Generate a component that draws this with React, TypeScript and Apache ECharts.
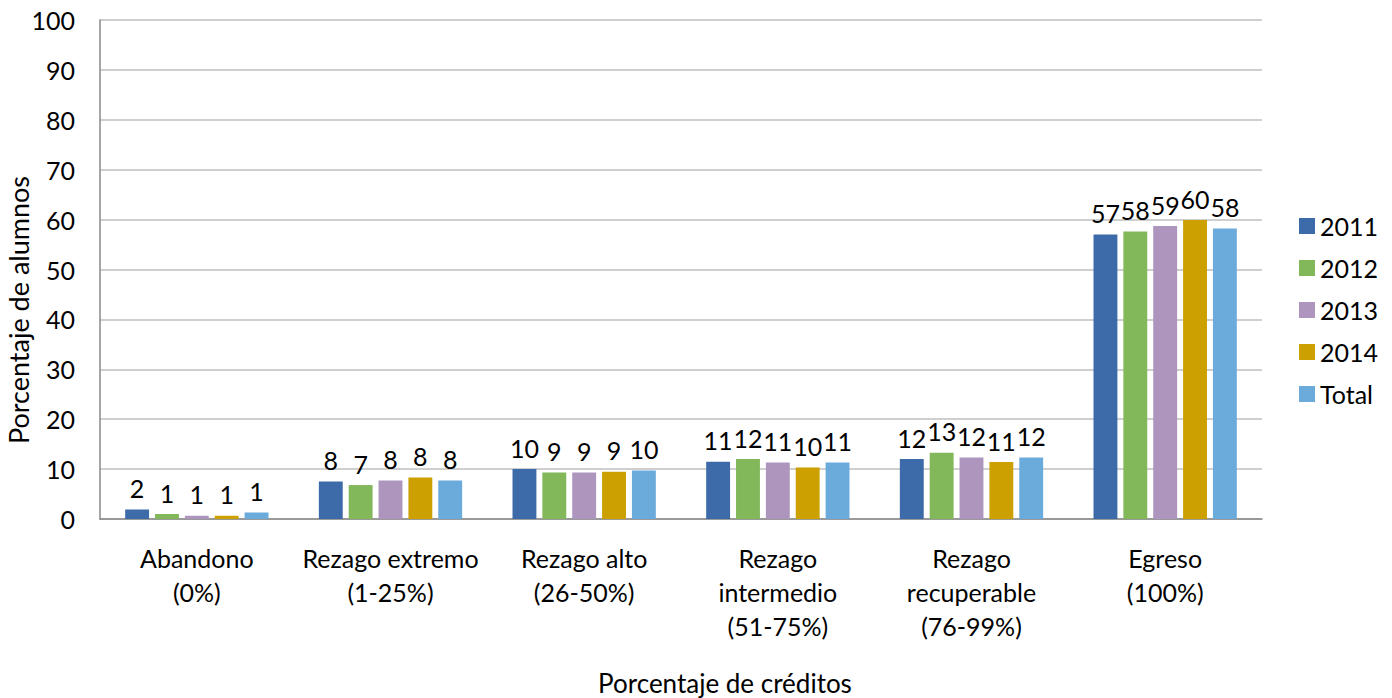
import React, { useEffect, useRef } from "react";
import * as echarts from "echarts";

const categories = [
  "Abandono\n(0%)",
  "Rezago extremo\n(1-25%)",
  "Rezago alto\n(26-50%)",
  "Rezago\nintermedio\n(51-75%)",
  "Rezago\nrecuperable\n(76-99%)",
  "Egreso\n(100%)",
];
const seriesNames = ["2011", "2012", "2013", "2014", "Total"];
const v2011 = [1.9, 7.5, 10.0, 11.45, 12.0, 57.0];
const v2012 = [1.0, 6.8, 9.3, 12.0, 13.3, 57.6];
const v2013 = [0.65, 7.7, 9.3, 11.3, 12.3, 58.7];
const v2014 = [0.65, 8.3, 9.45, 10.3, 11.4, 59.9];
const vTotal = [1.3, 7.7, 9.7, 11.3, 12.3, 58.2];
const seriesValues = [v2011, v2012, v2013, v2014, vTotal];
const colors = ["#3D6AA8", "#82B75A", "#AD95BD", "#CCA000", "#6AABDB"];
const xTitle = "Porcentaje de créditos";
const yTitle = "Porcentaje de alumnos";

const FONT = "Lato, 'Open Sans', sans-serif";

export default function App() {
  const ref = useRef<HTMLDivElement>(null);
  useEffect(() => {
    document.body.style.margin = "0";
    const chart = echarts.init(ref.current!, null, { renderer: "svg" });
    chart.setOption({
      animation: false,
      textStyle: { fontFamily: FONT },
      color: colors,
      grid: {
        left: 100,
        right: 130,
        top: 20,
        bottom: 179,
        containLabel: false,
        outerBoundsMode: "none",
      },
      legend: {
        orient: "vertical",
        left: 1294,
        top: 208,
        itemWidth: 16,
        itemHeight: 16,
        itemGap: 16,
        icon: "rect",
        textStyle: {
          fontSize: 25,
          lineHeight: 26,
          color: "#000",
          fontFamily: FONT,
          padding: [0, 0, 0, 0],
        },
        data: seriesNames,
      },
      graphic: [
        {
          type: "text",
          x: 725,
          y: 696,
          style: {
            text: xTitle,
            fontSize: 26,
            fontFamily: FONT,
            fill: "#000",
            align: "center",
            verticalAlign: "bottom",
          },
        },
        {
          type: "text",
          x: 18,
          y: 310,
          rotation: Math.PI / 2,
          style: {
            text: yTitle,
            fontSize: 27,
            fontFamily: FONT,
            fill: "#000",
            align: "center",
            verticalAlign: "middle",
          },
        },
      ],
      xAxis: {
        type: "category",
        data: categories,
        axisLine: { lineStyle: { color: "#888", width: 1.5 } },
        axisTick: { show: false },
        axisLabel: {
          color: "#000",
          fontSize: 25,
          lineHeight: 34,
          margin: 22,
          interval: 0,
          fontFamily: FONT,
        },
      },
      yAxis: {
        type: "value",
        min: 0,
        max: 100,
        interval: 10,
        axisLine: { show: true, lineStyle: { color: "#888", width: 1.5 } },
        axisTick: { show: false },
        splitLine: { lineStyle: { color: "#BFBFBF", width: 1.5 } },
        axisLabel: { color: "#000", fontSize: 25, margin: 25, fontFamily: FONT },
      },
      series: seriesNames.map((name, i) => ({
        name,
        type: "bar",
        data: seriesValues[i],
        barGap: "25%",
        barCategoryGap: "26%",
        label: {
          show: true,
          position: "top",
          distance: 9,
          color: "#000",
          fontSize: 25,
          fontFamily: FONT,
          formatter: (p: any) => String(Math.round(p.value)),
        },
      })),
    });
    return () => chart.dispose();
  }, []);
  return <div ref={ref} style={{ width: 1392, height: 698 }} />;
}
